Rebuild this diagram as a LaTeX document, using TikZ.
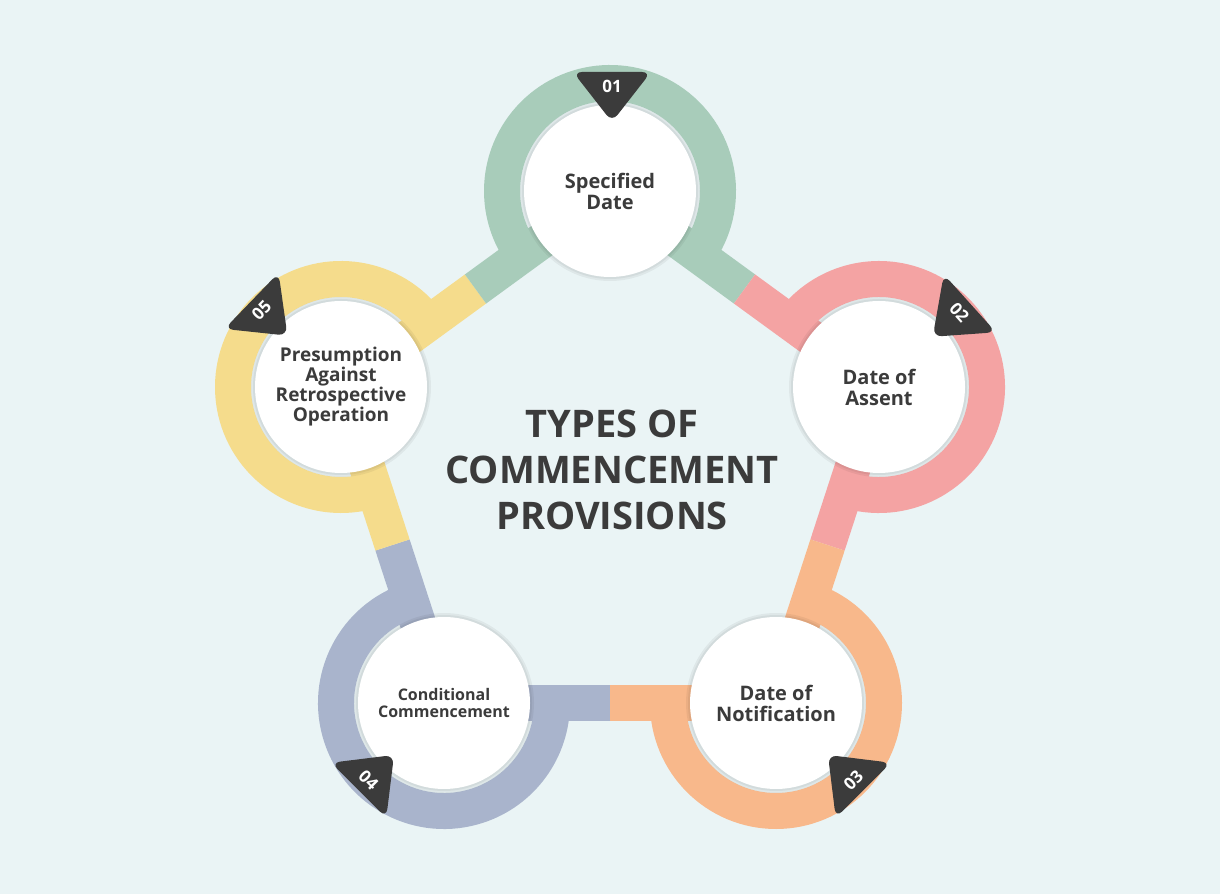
\documentclass[tikz,border=0pt]{standalone}
\usepackage{fontspec}
\setmainfont{Open Sans}
\usetikzlibrary{calc}
\definecolor{bg}{HTML}{EAF4F5}
\definecolor{cA}{HTML}{A8CCBA}
\definecolor{cB}{HTML}{F4A3A3}
\definecolor{cC}{HTML}{F8B88B}
\definecolor{cD}{HTML}{A9B4CC}
\definecolor{cE}{HTML}{F5DC8C}
\definecolor{ink}{HTML}{3B3B3B}
\tikzset{
 ring/.style={line width=36pt},
 disc/.style={circle,fill=white,minimum size=172pt,inner sep=0pt,align=center,text=ink,font=\fontsize{20}{21}\selectfont\bfseries},
 halo/.style={fill=black,opacity=0.05},
 badgetxt/.style={text=white,font=\fontsize{17}{18}\selectfont\bfseries}
}
\newcommand{\badge}[5]{% x y pointangle text textrot
 \begin{scope}[shift={(#1,#2)},rotate=#3+90]
  \fill[ink,rounded corners=9pt] (-39,16) -- (39,16) -- (0,-34) -- cycle;
  \node[badgetxt,rotate=#5] at (0,2) {#4};
 \end{scope}}
\begin{document}
\begin{tikzpicture}[x=1pt,y=1pt]
\fill[bg] (0,0) rectangle (1220,894);
\useasboundingbox (0,0) rectangle (1220,894);
\coordinate (n1) at (610,703);
\coordinate (n2) at (879,507);
\coordinate (n3) at (776,191);
\coordinate (n4) at (444,191);
\coordinate (n5) at (341,507);
% edges half/half
\draw[ring,cA] (n1) -- ($(n1)!0.5!(n2)$); \draw[ring,cB] ($(n1)!0.5!(n2)$) -- (n2);
\draw[ring,cB] (n2) -- ($(n2)!0.5!(n3)$); \draw[ring,cC] ($(n2)!0.5!(n3)$) -- (n3);
\draw[ring,cC] (n3) -- ($(n3)!0.5!(n4)$); \draw[ring,cD] ($(n3)!0.5!(n4)$) -- (n4);
\draw[ring,cD] (n4) -- ($(n4)!0.5!(n5)$); \draw[ring,cE] ($(n4)!0.5!(n5)$) -- (n5);
\draw[ring,cE] (n5) -- ($(n5)!0.5!(n1)$); \draw[ring,cA] ($(n5)!0.5!(n1)$) -- (n1);
% outer arcs
\draw[ring,cA] (n1) ++(-36:108) arc[start angle=-36,end angle=216,radius=108];
\draw[ring,cB] (n2) ++(-108:108) arc[start angle=-108,end angle=144,radius=108];
\draw[ring,cC] (n3) ++(-180:108) arc[start angle=-180,end angle=72,radius=108];
\draw[ring,cD] (n4) ++(-252:108) arc[start angle=-252,end angle=0,radius=108];
\draw[ring,cE] (n5) ++(36:108) arc[start angle=36,end angle=288,radius=108];
% soft halos
\foreach \n in {n1,n2,n3,n4,n5}{\fill[halo] (\n) circle[radius=90]; \fill[halo] (\n) circle[radius=88];}
% discs
\node[disc] (d1) at (n1) {Specified\\Date};
\node[disc] (d2) at (n2) {Date of\\Assent};
\node[disc] (d3) at (n3) {Date of\\Notification};
\node[disc,font=\fontsize{16}{17}\selectfont\bfseries] (d4) at (n4) {Conditional\\Commencement};
\node[disc,font=\fontsize{19}{20}\selectfont\bfseries] (d5) at (n5) {Presumption\\Against\\Retrospective\\Operation};
% badges
\badge{612}{806}{-90}{01}{0}
\badge{958}{580}{222}{02}{-48}
\badge{852}{115}{135}{03}{45}
\badge{370}{115}{45}{04}{-45}
\badge{263}{582}{-44}{05}{46}
\node[text=ink,font=\fontsize{38}{46}\selectfont\bfseries,align=center] (title) at (612,424) {TYPES OF\\COMMENCEMENT\\PROVISIONS};
\end{tikzpicture}
\end{document}
